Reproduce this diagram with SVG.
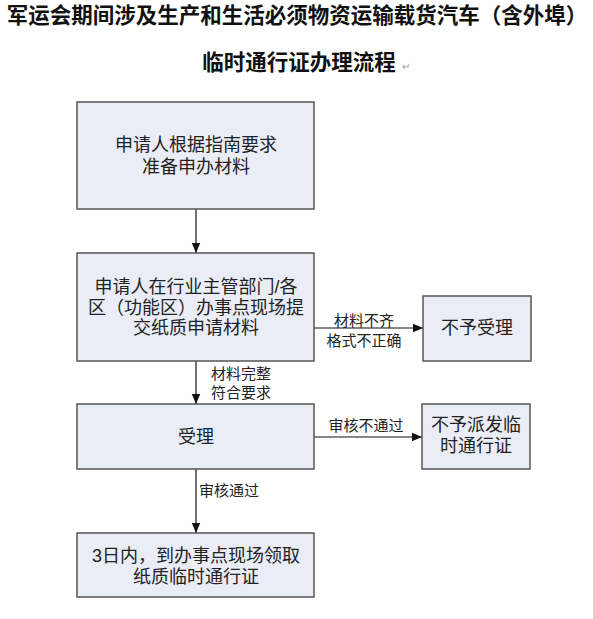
<svg xmlns="http://www.w3.org/2000/svg" width="593" height="619" viewBox="0 0 593 619">
<style>
.t{font-family:"Liberation Sans","Noto Sans CJK SC",sans-serif;fill:#111;text-anchor:middle;dominant-baseline:central}
.title{font-size:21.5px;font-weight:bold}
.n{font-size:18px;fill:#222}
.l{font-size:15px;fill:#222}
.box{fill:#eaedf6;stroke:#555;stroke-width:1.5}
.c{stroke:#111;stroke-width:1.2;fill:none}
</style>
<defs>
<marker id="ah" viewBox="0 0 10 10" refX="10" refY="5" markerWidth="10" markerHeight="10" markerUnits="userSpaceOnUse" orient="auto">
<path d="M0,0.8 L10,5 L0,9.2 Z" fill="#111"/>
</marker>
</defs>
<rect width="593" height="619" fill="#fff"/>
<g id="title">
<text class="t title" x="297" y="16">军运会期间涉及生产和生活必须物资运输载货汽车（含外埠）</text>
<text class="t title" x="299" y="63">临时通行证办理流程</text>
<text class="t" x="406" y="66" style="font-size:10px;fill:#999">↵</text>
</g>
<g id="connectors">
<line class="c" x1="196" y1="209" x2="196" y2="253" marker-end="url(#ah)"/>
<line class="c" x1="196" y1="361" x2="196" y2="404" marker-end="url(#ah)"/>
<line class="c" x1="196" y1="469" x2="196" y2="533" marker-end="url(#ah)"/>
<line class="c" x1="314" y1="328" x2="423" y2="328" marker-end="url(#ah)"/>
<line class="c" x1="314" y1="437" x2="422" y2="437" marker-end="url(#ah)"/>
<text class="t l"><tspan x="241" y="373">材料完整</tspan><tspan x="241" y="392">符合要求</tspan></text>
<text class="t l"><tspan x="364" y="320">材料不齐</tspan><tspan x="364" y="340">格式不正确</tspan></text>
<text class="t l" x="366" y="425">审核不通过</text>
<text class="t l" x="229" y="490">审核通过</text>
</g>
<g id="n1">
<rect class="box" x="77" y="102" width="237" height="107"/>
<text class="t n"><tspan x="196" y="145">申请人根据指南要求</tspan><tspan x="196" y="167">准备申办材料</tspan></text>
</g>
<g id="n2">
<rect class="box" x="77" y="253" width="237" height="108"/>
<text class="t n"><tspan x="196" y="287">申请人在行业主管部门/各</tspan><tspan x="196" y="308">区（功能区）办事点现场提</tspan><tspan x="196" y="328">交纸质申请材料</tspan></text>
</g>
<g id="n3">
<rect class="box" x="423" y="296" width="108" height="65"/>
<text class="t n" x="477" y="328">不予受理</text>
</g>
<g id="n4">
<rect class="box" x="77" y="404" width="237" height="65"/>
<text class="t n" x="196" y="437">受理</text>
</g>
<g id="n5">
<rect class="box" x="422" y="404" width="108" height="65"/>
<text class="t n"><tspan x="476" y="425">不予派发临</tspan><tspan x="476" y="446">时通行证</tspan></text>
</g>
<g id="n6">
<rect class="box" x="77" y="533" width="237" height="64"/>
<text class="t n"><tspan x="196" y="556">3日内，到办事点现场领取</tspan><tspan x="196" y="577">纸质临时通行证</tspan></text>
</g>
</svg>
